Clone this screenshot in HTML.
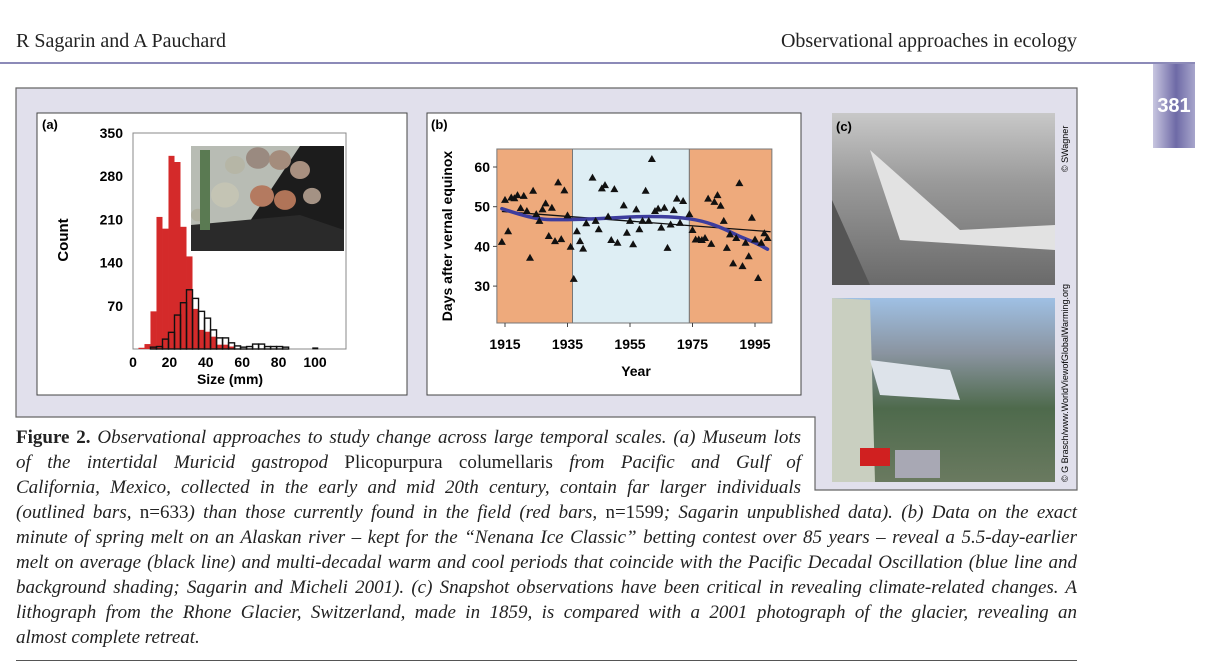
<!DOCTYPE html>
<html><head><meta charset="utf-8"><style>
body{margin:0;width:1220px;height:668px;background:#fff;position:relative;overflow:hidden;font-family:"Liberation Serif",serif}
.abs{position:absolute}
.hdr{font-size:20px;color:#222;top:30px}
.cap{position:absolute;left:16px;font-style:italic;font-size:19px;color:#222;white-space:nowrap;text-align:justify;text-align-last:justify;line-height:25px}
.up{font-style:normal}
</style></head><body>
<div class="abs hdr" style="left:16px">R Sagarin and A Pauchard</div>
<div class="abs hdr" style="right:143px">Observational approaches in ecology</div>
<div class="abs" style="left:0;top:62px;width:1195px;height:2px;background:#8c8ab8"></div>
<div class="abs" style="left:1153px;top:64px;width:42px;height:84px;background:linear-gradient(90deg,#c8c6e0,#6e6aa6 55%,#a8a6cc);color:#fff;font:bold 20px 'Liberation Sans',sans-serif;text-align:center;line-height:84px">381</div>

<svg class="abs" style="left:0;top:0" width="1220" height="668">
<path d="M16 88H1077V490H815V417H16Z" fill="#e1e0ec" stroke="#666" stroke-width="1.2"/>
<g id="pa">
<rect x="37" y="113" width="370" height="282" fill="#fff" stroke="#444"/>
</g>
<g id="pb">
<rect x="427" y="113" width="374" height="282" fill="#fff" stroke="#444"/>
</g>
<g>
<defs>
<linearGradient id="g1" x1="0" y1="0" x2="0" y2="1"><stop offset="0" stop-color="#c8c8c8"/><stop offset=".4" stop-color="#9a9a9a"/><stop offset="1" stop-color="#6a6a6a"/></linearGradient>
<linearGradient id="g2" x1="0" y1="0" x2="0" y2="1"><stop offset="0" stop-color="#9fc0e4"/><stop offset=".3" stop-color="#8a94a0"/><stop offset=".6" stop-color="#4e6a4c"/><stop offset="1" stop-color="#6a7a60"/></linearGradient>
</defs>
<rect x="832" y="113" width="223" height="172" fill="url(#g1)"/>
<path d="M870 150 L960 230 L1055 225 L1055 250 L900 240 Z" fill="#e2e2e2"/>
<path d="M832 200 L870 285 L832 285Z" fill="#555"/>
<rect x="832" y="298" width="223" height="184" fill="url(#g2)"/>
<path d="M832 298 L870 300 L875 482 L832 482Z" fill="#c9cfc0"/>
<path d="M870 360 L950 370 L960 400 L880 395Z" fill="#dde3ea"/>
<rect x="860" y="448" width="30" height="18" fill="#d02020"/>
<rect x="895" y="450" width="45" height="28" fill="#a8a8b4"/>
<text x="836" y="131" font-family="Liberation Sans" font-weight="bold" font-size="13">(c)</text>
<text transform="translate(1068,172) rotate(-90)" font-family="Liberation Sans" font-size="9">© SWagner</text>
<text transform="translate(1068,482) rotate(-90)" font-family="Liberation Sans" font-size="9">© G Brasch/www.WorldViewofGlobalWarming.org</text>
</g>
</svg>

<div class="cap" style="top:425px;width:785px"><b class="up">Figure 2.</b> Observational approaches to study change across large temporal scales. (a) Museum lots</div>
<div class="cap" style="top:450px;width:785px">of the intertidal Muricid gastropod <span class="up">Plicopurpura columellaris</span> from Pacific and Gulf of</div>
<div class="cap" style="top:475px;width:785px">California, Mexico, collected in the early and mid 20th century, contain far larger individuals</div>
<div class="cap" style="top:500px;width:1061px">(outlined bars, <span class="up">n=633</span>) than those currently found in the field (red bars, <span class="up">n=1599</span>; Sagarin unpublished data). (b) Data on the exact</div>
<div class="cap" style="top:525px;width:1061px">minute of spring melt on an Alaskan river – kept for the “Nenana Ice Classic” betting contest over 85 years – reveal a 5.5-day-earlier</div>
<div class="cap" style="top:550px;width:1061px">melt on average (black line) and multi-decadal warm and cool periods that coincide with the Pacific Decadal Oscillation (blue line and</div>
<div class="cap" style="top:575px;width:1061px">background shading; Sagarin and Micheli 2001). (c) Snapshot observations have been critical in revealing climate-related changes. A</div>
<div class="cap" style="top:600px;width:1061px">lithograph from the Rhone Glacier, Switzerland, made in 1859, is compared with a 2001 photograph of the glacier, revealing an</div>
<div class="cap" style="top:625px;text-align-last:left">almost complete retreat.</div>
<div class="abs" style="left:16px;top:660px;width:1061px;height:1px;background:#555"></div>

<script>
// Panel (a) data
const binStart = 3.0;
const binWidth = 3.3;
const redCounts = [2,8,61,214,195,313,303,198,150,65,31,28,20,7,7,4];
const blackStartIndex = 2;
const blackCounts = [3,4,16,27,55,75,96,82,61,50,31,18,18,10,5,3,4,8,8,4,4,4,3];
const blackExtraStarts = [98.5];
const blackExtraCounts = [1];
const aYTicks = [70,140,210,280,350];
const aXTicks = [0,20,40,60,80,100];
// Panel (b) data
const years = [1914,1915,1916,1917,1918,1919,1920,1921,1922,1923,1924,1925,1926,1927,1928,1929,1930,1931,1932,1933,1934,1935,1936,1937,1938,1939,1940,1941,1943,1944,1945,1946,1947,1948,1949,1950,1951,1953,1954,1955,1956,1957,1958,1959,1960,1961,1962,1963,1964,1965,1966,1967,1968,1969,1970,1971,1972,1974,1975,1976,1977,1978,1979,1980,1981,1982,1983,1984,1985,1986,1987,1988,1989,1990,1991,1992,1993,1994,1995,1996,1997,1998,1999];
const days = [41,51.6,43.7,52.2,52,52.8,49.5,52.6,48.8,37,53.9,48,46.3,49.2,50.7,42.5,49.6,41.2,56,41.7,54,47.7,39.8,31.7,43.7,41.2,39.3,45.7,57.2,46.3,44.2,54.5,55.3,47.4,41.5,54.3,40.8,50.2,43.3,46.3,40.4,49.2,44.2,46.3,53.9,46.3,61.9,48.8,49.4,44.6,49.6,39.5,45.4,49,51.9,45.8,51.3,48,44,41.6,41.6,41.5,42,51.9,40.5,51.1,52.8,50.1,46.3,39.5,42.9,35.6,42,55.8,34.9,40.8,37.4,47.1,41.6,31.9,40.8,43.2,42];
const trendYears = [1914,2000];
const trendDays = [48.8,43.7];
const pdoYears = [1914,1920,1925,1930,1940,1950,1960,1970,1978,1985,1990,1995,1999];
const pdoDays = [49.5,48,47,46.7,46.8,47.2,47.6,47.4,46.5,44.5,42.5,41,39.3];
const phaseStarts = [1912.4,1936.6,1974];
const phaseEnds = [1936.6,1974,2000.4];
const phaseKinds = ['warm','cool','warm'];
const bXTicks = [1915,1935,1955,1975,1995];
const bYTicks = [30,40,50,60];

const NS='http://www.w3.org/2000/svg';
function mk(parent,tag,attrs){const e=document.createElementNS(NS,tag);for(const k in attrs)e.setAttribute(k,attrs[k]);parent.appendChild(e);return e;}

// ---- panel a
const pa=document.getElementById('pa');
const ax=v=>133+v*1.82, ay=v=>349-v*(216/350);
const frameA=mk(pa,'rect',{x:133,y:133,width:213,height:216,fill:'#fff',stroke:'#888','stroke-width':1});


// inset photo
const ph=mk(pa,'g',{});


mk(ph,'rect',{x:191,y:146,width:153,height:105,fill:'#b8bcb4'});
mk(ph,'path',{d:'M300 146H344V251H230Z',fill:'#1c1c1c'});
mk(ph,'path',{d:'M191 225L300 215L344 230V251H191Z',fill:'#2a2a2a'});
[[235,165,10,'#b6b6a6'],[258,158,12,'#9a8a80'],[280,160,11,'#a48c7c'],[300,170,10,'#a89080'],[225,195,14,'#c4c4b4'],[262,196,12,'#b47a60'],[285,200,11,'#b07458'],[312,196,9,'#a49284'],[198,215,7,'#b0b0a0']].forEach(c=>mk(ph,'ellipse',{cx:c[0],cy:c[1],rx:c[2],ry:c[2]*0.9,fill:c[3]}));
mk(ph,'rect',{x:200,y:150,width:10,height:80,fill:'#5a7a52'});
redCounts.forEach((c,i)=>{const s=binStart+i*binWidth;const r=mk(pa,'rect',{x:ax(s),y:ay(c),width:binWidth*1.82,height:ay(0)-ay(c),fill:'#d42a2a'});

});
blackCounts.forEach((c,i)=>{const s=binStart+(i+blackStartIndex)*binWidth;const r=mk(pa,'rect',{x:ax(s),y:ay(c),width:binWidth*1.82,height:ay(0)-ay(c),fill:'none',stroke:'#111','stroke-width':1.4});

});
blackExtraStarts.forEach((s,i)=>{const r=mk(pa,'rect',{x:ax(s),y:ay(blackExtraCounts[i])-1,width:binWidth*1.82,height:2,fill:'#111'});

});
aYTicks.forEach(t=>{const e=mk(pa,'text',{x:123,y:ay(t)+5,'text-anchor':'end','font-family':'Liberation Sans','font-weight':'bold','font-size':14});e.textContent=t;

});
aXTicks.forEach(t=>{const e=mk(pa,'text',{x:ax(t),y:367,'text-anchor':'middle','font-family':'Liberation Sans','font-weight':'bold','font-size':14});e.textContent=t;

});
let t=mk(pa,'text',{x:230,y:384,'text-anchor':'middle','font-family':'Liberation Sans','font-weight':'bold','font-size':14});t.textContent='Size (mm)';


t=mk(pa,'text',{transform:'translate(68,240) rotate(-90)','text-anchor':'middle','font-family':'Liberation Sans','font-weight':'bold','font-size':15});t.textContent='Count';


t=mk(pa,'text',{x:42,y:129,'font-family':'Liberation Sans','font-weight':'bold','font-size':13});t.textContent='(a)';



// ---- panel b
const pb=document.getElementById('pb');
const bx=y=>505+(y-1915)*3.125, by=v=>167-(v-60)*3.97;
phaseStarts.forEach((s,i)=>{const r=mk(pb,'rect',{x:bx(s),y:149,width:bx(phaseEnds[i])-bx(s),height:174,fill:phaseKinds[i]==='warm'?'#eeaa7c':'#deeef4',stroke:'#777','stroke-width':1});

});
bXTicks.forEach(y=>{mk(pb,'line',{x1:bx(y),x2:bx(y),y1:323,y2:327,stroke:'#444'});const e=mk(pb,'text',{x:bx(y),y:349,'text-anchor':'middle','font-family':'Liberation Sans','font-weight':'bold','font-size':14});e.textContent=y;

});
bYTicks.forEach(v=>{mk(pb,'line',{x1:493,x2:497,y1:by(v),y2:by(v),stroke:'#444'});const e=mk(pb,'text',{x:490,y:by(v)+5,'text-anchor':'end','font-family':'Liberation Sans','font-weight':'bold','font-size':14});e.textContent=v;

});
const tl=mk(pb,'polyline',{points:trendYears.map((y,i)=>bx(y)+','+by(trendDays[i])).join(' '),fill:'none',stroke:'#111','stroke-width':1.3});


let d='';pdoYears.forEach((y,i)=>{const X=bx(y),Y=by(pdoDays[i]);if(i===0)d='M'+X+' '+Y;else{const px=bx(pdoYears[i-1]),py=by(pdoDays[i-1]);d+=' Q'+px+' '+py+' '+((px+X)/2)+' '+((py+Y)/2);}});
d+=' L'+bx(pdoYears[pdoYears.length-1])+' '+by(pdoDays[pdoDays.length-1]);
const pl=mk(pb,'path',{d:d,fill:'none',stroke:'#3d3d9e','stroke-width':3.5,'stroke-linecap':'round'});


years.forEach((y,i)=>{const X=bx(y),Y=by(days[i]);const p=mk(pb,'path',{d:`M${X} ${Y-4.5}L${X+4} ${Y+2.5}L${X-4} ${Y+2.5}Z`,fill:'#111'});

});
t=mk(pb,'text',{x:636,y:376,'text-anchor':'middle','font-family':'Liberation Sans','font-weight':'bold','font-size':14});t.textContent='Year';


t=mk(pb,'text',{transform:'translate(452,236) rotate(-90)','text-anchor':'middle','font-family':'Liberation Sans','font-weight':'bold','font-size':14});t.textContent='Days after vernal equinox';


t=mk(pb,'text',{x:431,y:129,'font-family':'Liberation Sans','font-weight':'bold','font-size':13});t.textContent='(b)';


</script>
</body></html>
